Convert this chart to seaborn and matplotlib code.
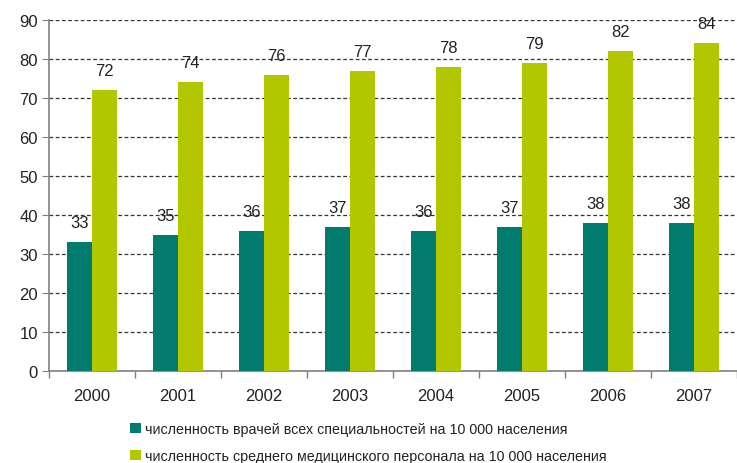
import matplotlib
matplotlib.use("Agg")
import matplotlib.pyplot as plt
import seaborn as sns
import pandas as pd
from matplotlib.patches import Patch

years = ["2000", "2001", "2002", "2003", "2004", "2005", "2006", "2007"]
doctors = [33, 35, 36, 37, 36, 37, 38, 38]
nurses = [72, 74, 76, 77, 78, 79, 82, 84]
series_names = ["численность врачей всех специальностей на 10 000 населения",
                "численность среднего медицинского персонала на 10 000 населения"]
colors = ["#007B6E", "#B3C700"]

sns.set_style("white")
plt.rcParams['font.family'] = ['Liberation Sans', 'DejaVu Sans']

df = pd.DataFrame({
    "year": years * 2,
    "value": doctors + nurses,
    "series": [series_names[0]] * len(years) + [series_names[1]] * len(years),
})

fig = plt.figure(figsize=(7.37, 4.64), dpi=100)
ax = fig.add_axes([49/737, 1 - 372/464, 1 - 49/737, (372 - 21)/464])

sns.barplot(data=df, x="year", y="value", hue="series", palette=colors,
            width=0.58, ax=ax, legend=False, saturation=1, zorder=3,
            linewidth=0, edgecolor="none")

for cont in ax.containers:
    for bar in cont:
        h = bar.get_height()
        ax.annotate(f"{int(h)}", (bar.get_x() + bar.get_width()/2, h),
                    xytext=(0, 14), textcoords="offset points",
                    ha="center", va="center", fontsize=12, color="#222222", zorder=2)

ax.set_ylim(0, 90)
ax.set_xlim(-0.5, len(years) - 0.5)
ax.set_yticks(range(0, 91, 10))
ax.yaxis.grid(True, linestyle=(0, (3, 2)), color="#333333", linewidth=0.9, zorder=0)
ax.set_axisbelow(True)
ax.set_xlabel("")
ax.set_ylabel("")

for s in ["top", "right"]:
    ax.spines[s].set_visible(False)
for s in ["left", "bottom"]:
    ax.spines[s].set_color("#808080")
    ax.spines[s].set_linewidth(1.2)

ax.tick_params(axis="y", left=True, length=5, color="#808080", labelsize=12, labelcolor="#222222", pad=3)
ax.tick_params(axis="x", bottom=False, length=0, labelsize=12, labelcolor="#222222", pad=12)
ax.set_xticks([i - 0.5 for i in range(len(years) + 1)], minor=True)
ax.tick_params(axis="x", which="minor", bottom=True, length=5, color="#808080", width=1)

handles = [Patch(facecolor=c, edgecolor="none") for c in colors]
fig.legend(handles, series_names, loc="upper left", bbox_to_anchor=(130/737, 1 - 423/464),
           frameon=False, fontsize=10.3, handlelength=0.75, handleheight=0.75,
           handletextpad=0.3, labelspacing=0.9, borderaxespad=0, borderpad=0,
           labelcolor="#222222")

fig.savefig("out.png", dpi=100)
